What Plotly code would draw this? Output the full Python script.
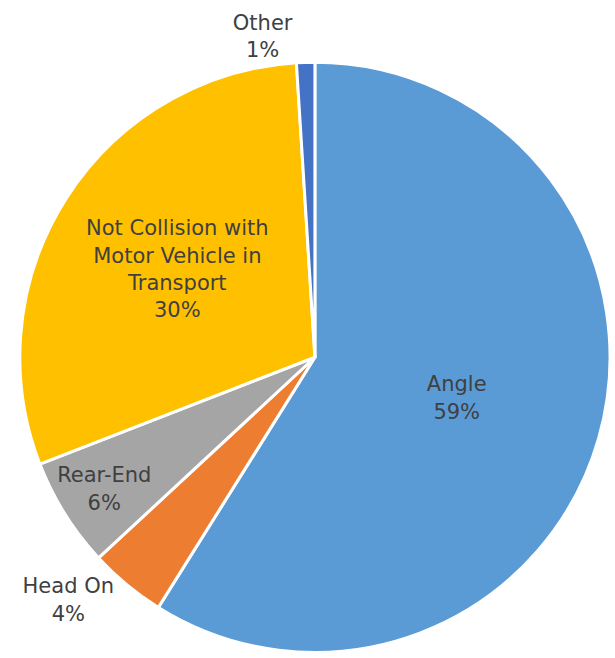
import plotly.graph_objects as go

categories = ["Angle", "Head On", "Rear-End", "Not Collision with<br>Motor Vehicle in<br>Transport", "Other"]
values = [58.9, 4.2, 6.0, 29.9, 1.0]
colors = ["#5B9BD5", "#ED7D31", "#A5A5A5", "#FFC000", "#4472C4"]
text_positions = ["inside", "outside", "inside", "inside", "outside"]

fig = go.Figure(go.Pie(
    labels=categories,
    values=values,
    sort=False,
    direction="clockwise",
    rotation=0,
    marker=dict(colors=colors, line=dict(color="white", width=3)),
    texttemplate="%{label}<br>%{percent:.0%}",
    textposition=text_positions,
    insidetextorientation="horizontal",
    textfont=dict(family="DejaVu Sans, Verdana, sans-serif", size=21, color="#404040"),
    hoverinfo="label+percent",
    domain=dict(x=[20/615, 1], y=[0.5/658, 595.5/658]),
    showlegend=False,
))

fig.update_layout(
    width=615, height=658,
    margin=dict(l=0, r=0, t=0, b=0),
    paper_bgcolor="white",
    plot_bgcolor="white",
    uniformtext=dict(minsize=21, mode="show"),
)

fig.write_html(
    "out.html",
    config={"displayModeBar": False},
    post_script="document.body.style.margin='0';document.body.style.overflow='hidden';",
)
